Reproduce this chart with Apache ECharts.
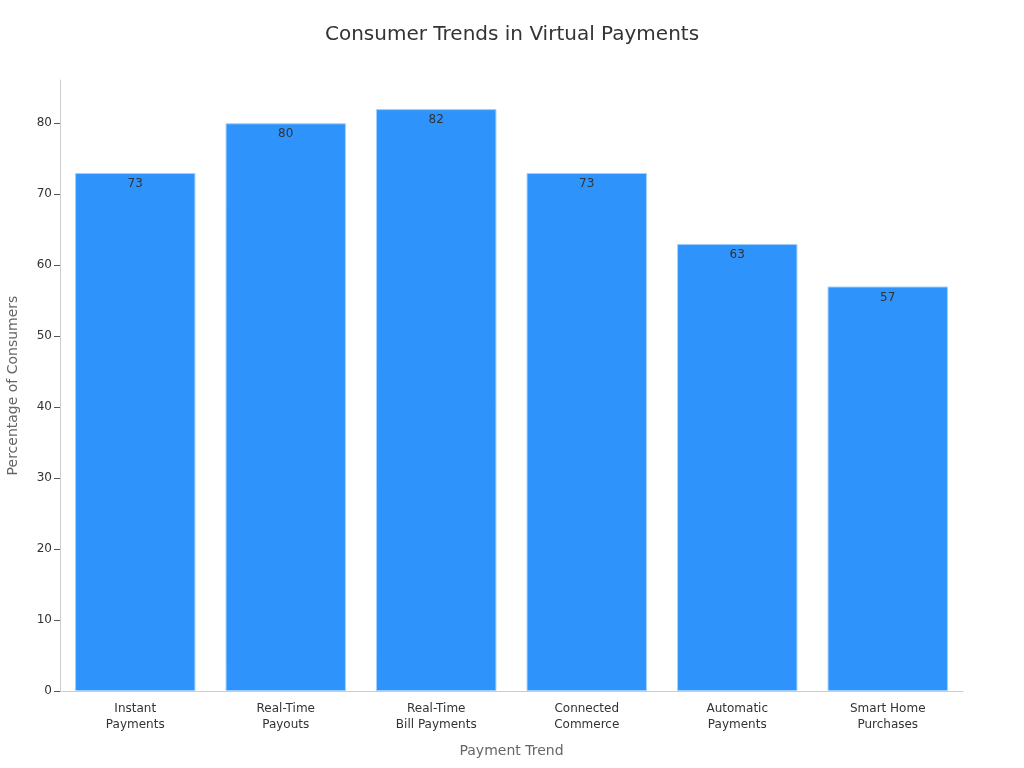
<!DOCTYPE html>
<html lang="en">
<head>
    <meta charset="UTF-8">
    <script src="https://cdn.jsdelivr.net/npm/echarts@6/dist/echarts.min.js"></script>
    <title>Consumer Trends in Virtual Payments</title>
    <style>
        html, body { margin: 0; padding: 0; background: #fff; }
        #chart { width: 1024px; height: 768px; }
    </style>
</head>
<body>
    <div id="chart"></div>
    <script>
        var categories = ['Instant\nPayments', 'Real-Time\nPayouts', 'Real-Time\nBill Payments', 'Connected\nCommerce', 'Automatic\nPayments', 'Smart Home\nPurchases'];
        var percentages = [73, 80, 82, 73, 63, 57];
        var yTicks = [0, 10, 20, 30, 40, 50, 60, 70, 80];

        var font = 'DejaVu Sans, sans-serif';
        var chart = echarts.init(document.getElementById('chart'));
        var option = {
            animation: false,
            title: {
                text: 'Consumer Trends in Virtual Payments',
                left: 'center',
                top: 20,
                textStyle: { fontFamily: font, fontSize: 20, fontWeight: 'normal', color: '#333' }
            },
            grid: { left: 60, right: 61, top: 80, bottom: 77, containLabel: false, outerBoundsMode: 'none' },
            xAxis: {
                type: 'category',
                data: categories,
                name: 'Payment Trend',
                nameLocation: 'middle',
                nameGap: 53,
                nameTextStyle: { fontFamily: font, fontSize: 14, color: '#666' },
                axisLine: { lineStyle: { color: '#ccc' } },
                axisTick: { alignWithLabel: true, lineStyle: { color: '#555' } },
                axisLabel: { fontFamily: font, fontSize: 12, color: '#333', lineHeight: 16, interval: 0, margin: 10 }
            },
            yAxis: {
                type: 'value',
                min: 0,
                max: 86.1,
                interval: 10,
                name: 'Percentage of Consumers',
                nameLocation: 'middle',
                nameGap: 40,
                nameTextStyle: { fontFamily: font, fontSize: 14, color: '#666' },
                axisLine: { show: true, lineStyle: { color: '#ccc' } },
                axisTick: { show: true, length: 6, customValues: yTicks, lineStyle: { color: '#555' } },
                splitLine: { show: false },
                axisLabel: { fontFamily: font, fontSize: 12, color: '#333', customValues: yTicks }
            },
            series: [{
                type: 'bar',
                data: percentages,
                barCategoryGap: '20%',
                itemStyle: { color: '#2E93FA', borderColor: '#9fd0ff', borderWidth: 1 },
                label: {
                    show: true,
                    position: 'insideTop',
                    distance: 5,
                    fontFamily: font,
                    fontSize: 12,
                    color: '#333'
                }
            }]
        };
        chart.setOption(option);
    </script>
</body>
</html>
